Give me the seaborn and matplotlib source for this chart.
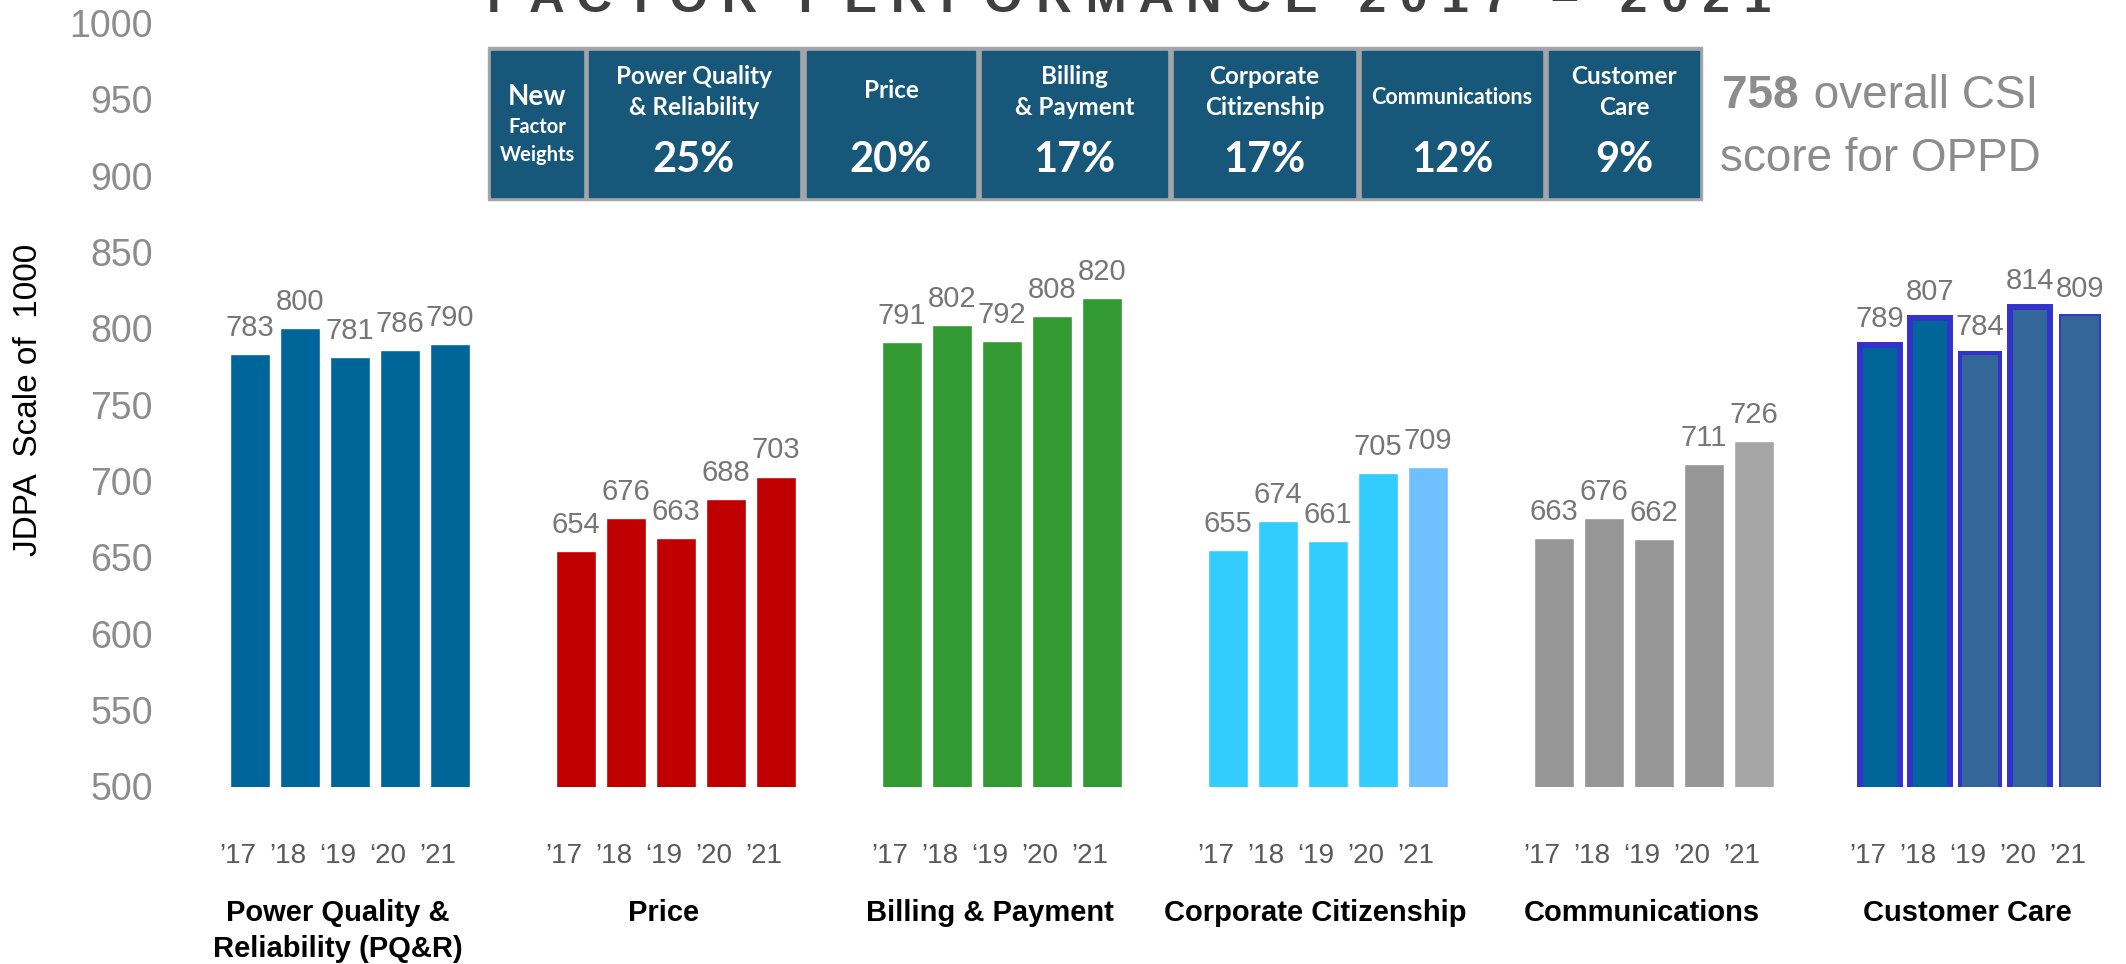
import pandas as pd
import seaborn as sns
import matplotlib.pyplot as plt
from matplotlib.patches import Rectangle
from matplotlib import transforms

# chart values
factors = ["Power Quality &\nReliability (PQ&R)", "Price", "Billing & Payment",
           "Corporate Citizenship", "Communications", "Customer Care"]
years = ["2017", "2018", "2019", "2020", "2021"]
pqr = [783, 800, 781, 786, 790]
price = [654, 676, 663, 688, 703]
billing = [791, 802, 792, 808, 820]
corporate = [655, 674, 661, 705, 709]
communications = [663, 676, 662, 711, 726]
customer_care = [789, 807, 784, 814, 809]
year_ticks = [
    ["\u201917", "\u201918", "\u201819", "\u201820", "\u201921"],
    ["\u201917", "\u201918", "\u201819", "\u201920", "\u201921"],
    ["\u201917", "\u201918", "\u201819", "\u201920", "\u201921"],
    ["\u201917", "\u201918", "\u201819", "\u201920", "\u201921"],
    ["\u201917", "\u201918", "\u201819", "\u201920", "\u201921"],
    ["\u201917", "\u201918", "\u201819", "\u201920", "\u201921"],
]
weight_heads = ["Power Quality\n& Reliability", "Price", "Billing\n& Payment",
                "Corporate\nCitizenship", "Communications", "Customer\nCare"]
weights = ["25%", "20%", "17%", "17%", "12%", "9%"]
overall_csi = 758

# styles
bar_colors = [
    ["#006699"] * 5,
    ["#c00000"] * 5,
    ["#339933"] * 5,
    ["#33ccff"] * 4 + ["#70bfff"],
    ["#969696"] * 4 + ["#a6a6a6"],
    ["#006699", "#006699", "#336699", "#336699", "#336699"],
]
care_edge = [4.3, 4.3, 2.9, 4.3, 1.4]
GROUP_STEP = 6.52

W, H = 2126, 964
fig = plt.figure(figsize=(W / 100, H / 100), dpi=100)
sns.set_style("white")
plt.rcParams["font.family"] = ["Liberation Sans", "DejaVu Sans"]


def fx(px):
    return px / W


def fy(py):
    return 1 - py / H


# axes: x=0 at px 250, 1 unit = 50 px; y 500..1000 between px 786.5 and 23
ax = fig.add_axes([fx(175), fy(786.5), fx(W - 175), (786.5 - 23) / H])

series = [pqr, price, billing, corporate, communications, customer_care]
rows = []
for g, vals in enumerate(series):
    for i, v in enumerate(vals):
        rows.append({"g": g, "i": i, "year": years[i], "score": v,
                     "bar": f"{g}-{i}", "pos": g * GROUP_STEP + i})
df = pd.DataFrame(rows)
palette = {f"{g}-{i}": bar_colors[g][i] for g in range(6) for i in range(5)}

sns.barplot(data=df, x="pos", y="score", hue="bar", palette=palette,
            native_scale=True, dodge=False, legend=False, width=0.8,
            saturation=1, ax=ax)

for p in ax.patches:
    cx = p.get_x() + p.get_width() / 2
    row = df.loc[(df["pos"] - cx).abs() < 0.1].iloc[0]
    if row["g"] == 5:
        p.set_edgecolor("#3333cc")
        p.set_linewidth(care_edge[int(row["i"])])

for _, r in df.iterrows():
    ax.annotate(str(r["score"]), (r["pos"], r["score"]), xytext=(0, 13),
                textcoords="offset points", ha="center", va="baseline",
                fontsize=21, color="#767676")

ax.set_ylim(500, 1000)
ax.set_xlim((175 - 250) / 50, (W - 250) / 50)
ax.set_yticks(range(500, 1001, 50))
ax.set_xticks(df["pos"] - 0.25)
ax.set_xticklabels([t for grp in year_ticks for t in grp])
ax.tick_params(axis="y", length=0, pad=16, labelsize=27, labelcolor="#8c8c8c")
ax.tick_params(axis="x", length=0, pad=41, labelsize=20, labelcolor="#595959")
ax.set_xlabel("")
ax.set_ylabel("")
sns.despine(ax=ax, left=True, bottom=True)

# factor names under the years
trans = transforms.blended_transform_factory(ax.transData, fig.transFigure)
for g, name in enumerate(factors):
    ax.text(g * GROUP_STEP + 2 - 0.25, fy(899), name, transform=trans,
            ha="center", va="top", fontsize=21, fontweight="bold",
            color="black", linespacing=1.38)

fig.text(fx(29), fy(400), "JDPA  Scale of  1000", rotation=90,
         ha="center", va="center", fontsize=24, color="black")

# title, cut off by the top edge as in the slide
renderer = fig.canvas.get_renderer()
title = fig.text(fx(1129), fy(12), "F A C T O R   P E R F O R M A N C E   2 0 1 7   \u2013   2 0 2 1",
                 ha="center", va="baseline", fontsize=40, fontweight="bold",
                 color="#404040")
tw = title.get_window_extent(renderer=renderer).width
title.set_fontsize(40 * 1282 / tw)

# factor weights table
fig.patches.append(Rectangle((fx(488), fy(200)), fx(1702 - 488), (200 - 47) / H,
                             transform=fig.transFigure, color="#a3a6a8", zorder=0))
cells = [(491, 583), (589, 799), (807, 975), (982, 1167), (1174, 1355),
         (1362, 1542), (1549, 1699)]
for x0, x1 in cells:
    fig.patches.append(Rectangle((fx(x0), fy(197)), fx(x1 - x0), (197 - 51) / H,
                                 transform=fig.transFigure, color="#17587a", zorder=1))

tfont = ["Lato", "DejaVu Sans"]
c0 = (cells[0][0] + cells[0][1]) / 2
fig.text(fx(c0), fy(97), "New", ha="center", va="center", fontsize=20,
         fontweight="bold", color="white", family=tfont)
fig.text(fx(c0), fy(127), "Factor", ha="center", va="center", fontsize=14.5,
         fontweight="bold", color="white", family=tfont)
fig.text(fx(c0), fy(155), "Weights", ha="center", va="center", fontsize=14.5,
         fontweight="bold", color="white", family=tfont)
for k, (head, w) in enumerate(zip(weight_heads, weights)):
    x0, x1 = cells[k + 1]
    cx = (x0 + x1) / 2
    size = 15.5 if head == "Communications" else 17.5
    hy = 92 if "\n" in head else (90 if head == "Price" else 97)
    fig.text(fx(cx), fy(hy), head, ha="center", va="center", fontsize=size,
             fontweight="bold", color="white", family=tfont, linespacing=1.45)
    fig.text(fx(cx), fy(160), w, ha="center", va="center", fontsize=30,
             fontweight="bold", color="white", family=tfont)

# overall score note
nfont = ["Liberation Sans Narrow", "Liberation Sans"]
t1 = fig.text(fx(1722), fy(108), str(overall_csi), ha="left", va="baseline",
              fontsize=33, fontweight="bold", color="#8c8c8c", family=nfont)
b1 = t1.get_window_extent(renderer=renderer)
fig.text(fx(b1.x1 + 2), fy(108), " overall CSI", ha="left", va="baseline",
         fontsize=33, color="#8c8c8c", family=nfont)
fig.text(fx(1720), fy(171), "score for OPPD", ha="left", va="baseline",
         fontsize=33, color="#8c8c8c", family=nfont)

fig.savefig("out.png", dpi=100)
